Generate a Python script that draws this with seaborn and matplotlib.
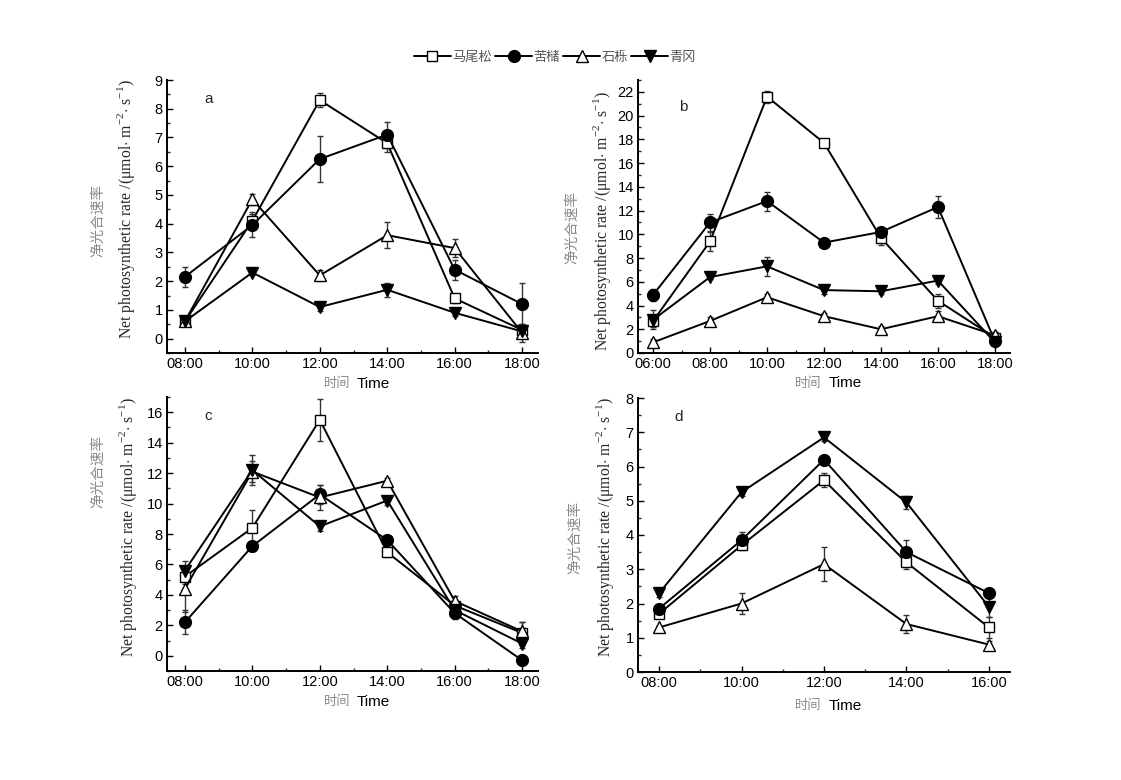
import numpy as np
import pandas as pd
import matplotlib
matplotlib.use("Agg")
import matplotlib.pyplot as plt
from matplotlib.lines import Line2D
from matplotlib.ticker import FixedLocator, MultipleLocator
import seaborn as sns

# ---------------- data ----------------
species = ["马尾松", "苦槠", "石栎", "青冈"]

hours_a = [8, 10, 12, 14, 16, 18]
a_mws = [0.6, 4.1, 8.3, 6.8, 1.4, 0.3]
a_kz = [2.15, 3.95, 6.25, 7.1, 2.4, 1.2]
a_sl = [0.6, 4.85, 2.2, 3.6, 3.15, 0.2]
a_qg = [0.6, 2.3, 1.1, 1.7, 0.9, 0.25]
a_mws_e = [0.1, 0.3, 0.25, 0.3, 0.15, 0.2]
a_kz_e = [0.35, 0.4, 0.8, 0.45, 0.35, 0.75]
a_sl_e = [0.1, 0.2, 0.2, 0.45, 0.3, 0.3]
a_qg_e = [0.1, 0.1, 0.15, 0.25, 0.1, 0.1]

hours_b = [6, 8, 10, 12, 14, 16, 18]
b_mws = [2.7, 9.4, 21.6, 17.7, 9.7, 4.4, 1.3]
b_kz = [4.9, 11.0, 12.8, 9.3, 10.2, 12.3, 1.0]
b_sl = [0.9, 2.7, 4.7, 3.1, 2.0, 3.1, 1.5]
b_qg = [2.8, 6.4, 7.3, 5.3, 5.2, 6.1, 0.9]
b_mws_e = [0.5, 0.8, 0.5, 0.2, 0.6, 0.6, 0.5]
b_kz_e = [0.5, 0.7, 0.8, 0.2, 0.3, 0.9, 0.3]
b_sl_e = [0.3, 0.3, 0.3, 0.3, 0.3, 0.4, 0.3]
b_qg_e = [0.8, 0.2, 0.8, 0.3, 0.2, 0.3, 0.3]

hours_c = [8, 10, 12, 14, 16, 18]
c_mws = [5.2, 8.4, 15.5, 6.8, 3.3, 1.5]
c_kz = [2.2, 7.2, 10.6, 7.6, 2.8, -0.3]
c_sl = [4.4, 12.1, 10.4, 11.5, 3.6, 1.6]
c_qg = [5.6, 12.2, 8.5, 10.2, 3.0, 0.8]
c_mws_e = [0.5, 1.2, 1.4, 0.3, 0.3, 0.7]
c_kz_e = [0.8, 0.3, 0.6, 0.3, 0.4, 0.3]
c_sl_e = [1.5, 0.7, 0.8, 0.2, 0.3, 0.6]
c_qg_e = [0.6, 1.0, 0.3, 0.3, 0.3, 0.3]

hours_d = [8, 10, 12, 14, 16]
d_mws = [1.7, 3.7, 5.6, 3.2, 1.3]
d_kz = [1.85, 3.85, 6.2, 3.5, 2.3]
d_sl = [1.3, 2.0, 3.15, 1.4, 0.8]
d_qg = [2.3, 5.25, 6.85, 4.95, 1.9]
d_mws_e = [0.1, 0.15, 0.2, 0.2, 0.3]
d_kz_e = [0.1, 0.25, 0.1, 0.35, 0.1]
d_sl_e = [0.05, 0.3, 0.5, 0.25, 0.1]
d_qg_e = [0.1, 0.1, 0.1, 0.2, 0.3]

tick_labels_a = ["08:00", "10:00", "12:00", "14:00", "16:00", "18:00"]
tick_labels_b = ["06:00", "08:00", "10:00", "12:00", "14:00", "16:00", "18:00"]
tick_labels_d = ["08:00", "10:00", "12:00", "14:00", "16:00"]

panel_letters = ["a", "b", "c", "d"]

# ---------------- style ----------------
sns.set_theme(style="ticks")
plt.rcParams["font.family"] = ["Liberation Sans", "Noto Sans CJK SC", "DejaVu Sans"]
plt.rcParams["mathtext.fontset"] = "custom"
plt.rcParams["mathtext.rm"] = "Liberation Serif"

markers = {"马尾松": "s", "苦槠": "o", "石栎": "^", "青冈": "v"}
faces = {"马尾松": "white", "苦槠": "black", "石栎": "white", "青冈": "black"}
msizes = {"马尾松": 7.5, "苦槠": 8.5, "石栎": 9, "青冈": 9}

fig = plt.figure(figsize=(11.21, 7.80), dpi=100)
W, H = 1121, 780


def frac_box(l, r, t, b):
    return [l / W, 1 - b / H, (r - l) / W, (b - t) / H]


boxes = [
    frac_box(167, 538, 80, 353),
    frac_box(638, 1010, 80, 353),
    frac_box(167, 538, 397, 671),
    frac_box(638, 1010, 398, 672),
]

panels = [
    (hours_a, [a_mws, a_kz, a_sl, a_qg], [a_mws_e, a_kz_e, a_sl_e, a_qg_e], tick_labels_a,
     (7.47, 18.47), (-0.5, 9.0), 1, 0.5, (0.10, 0.93)),
    (hours_b, [b_mws, b_kz, b_sl, b_qg], [b_mws_e, b_kz_e, b_sl_e, b_qg_e], tick_labels_b,
     (5.47, 18.53), (0, 23.0), 2, 1, (0.11, 0.90)),
    (hours_c, [c_mws, c_kz, c_sl, c_qg], [c_mws_e, c_kz_e, c_sl_e, c_qg_e], tick_labels_a,
     (7.47, 18.47), (-1.0, 17.0), 2, 1, (0.10, 0.93)),
    (hours_d, [d_mws, d_kz, d_sl, d_qg], [d_mws_e, d_kz_e, d_sl_e, d_qg_e], tick_labels_d,
     (7.49, 16.51), (0, 8.0), 1, 0.5, (0.097, 0.93)),
]

# label positions in pixel coords
ylab_en = [(126, 209), (602, 221), (128, 527), (605, 527)]
ylab_cn = [(98, 220), (572, 227), (98, 471), (575, 537)]
xlab_y = [384, 383, 702, 706]

for i, (hrs, vals, errs, tlabels, xl, yl, ymaj, ymin, letpos) in enumerate(panels):
    ax = fig.add_axes(boxes[i])
    for sp, v, e in zip(species, vals, errs):
        ax.errorbar(hrs, v, yerr=e, fmt="none", ecolor="#333333", elinewidth=1.0,
                    capsize=2.5, capthick=1.0, zorder=2)
        df = pd.DataFrame({"hour": hrs, "value": v})
        sns.lineplot(data=df, x="hour", y="value", ax=ax, color="black",
                     marker=markers[sp], markersize=msizes[sp],
                     markerfacecolor=faces[sp], markeredgecolor="black",
                     markeredgewidth=1.0, linewidth=1.4, zorder=3)
    ax.set_xlim(*xl)
    ax.set_ylim(*yl)
    ax.xaxis.set_major_locator(FixedLocator(hrs))
    ax.set_xticklabels(tlabels)
    ax.xaxis.set_minor_locator(FixedLocator([h + 1 for h in hrs[:-1]]))
    ax.yaxis.set_major_locator(MultipleLocator(ymaj))
    ax.yaxis.set_minor_locator(MultipleLocator(ymin))
    ax.tick_params(which="major", direction="in", length=4, width=1.0, labelsize=10.5,
                   colors="black", pad=3)
    ax.tick_params(which="minor", direction="in", length=2.5, width=1.0)
    for s in ["top", "right"]:
        ax.spines[s].set_visible(False)
    for s in ["left", "bottom"]:
        ax.spines[s].set_linewidth(1.4)
        ax.spines[s].set_color("black")
    ax.set_facecolor("none")
    ax.set_xlabel("")
    ax.set_ylabel("")
    ax.text(letpos[0], letpos[1], panel_letters[i], transform=ax.transAxes,
            fontsize=11, ha="left", va="center")
    # axis titles
    fig.text(ylab_en[i][0] / W, 1 - ylab_en[i][1] / H,
             r"Net photosynthetic rate /($\mathrm{\mu mol}$$\cdot$ m$^{-2}$$\cdot$ s$^{-1}$)",
             rotation=90, ha="center", va="center", fontsize=11.3,
             family=["Liberation Serif", "DejaVu Serif"])
    fig.text(ylab_cn[i][0] / W, 1 - ylab_cn[i][1] / H, "净光合速率", rotation=90,
             ha="center", va="center", fontsize=10.5, color="#8a8a8a",
             family=["Noto Sans CJK SC", "DejaVu Sans"])
    cx = boxes[i][0] + boxes[i][2] / 2
    fig.text(cx - 0.002, 1 - xlab_y[i] / H, "时间", ha="right", va="center",
             fontsize=9.5, color="#8a8a8a", family=["Noto Sans CJK SC", "DejaVu Sans"])
    fig.text(cx + 0.004, 1 - xlab_y[i] / H, "Time", ha="left", va="center",
             fontsize=11, color="black", family=["Liberation Sans", "DejaVu Sans"])

handles = [Line2D([], [], color="black", linewidth=1.4, marker=markers[sp],
                  markersize=msizes[sp], markerfacecolor=faces[sp],
                  markeredgecolor="black") for sp in species]
leg = fig.legend(handles, species, loc="center", bbox_to_anchor=(555 / W, 1 - 57 / H),
                 ncol=4, frameon=False, handlelength=2.8, handletextpad=0.1,
                 columnspacing=0.25,
                 prop={"family": ["Noto Sans CJK SC", "DejaVu Sans"], "size": 9.5})
for t in leg.get_texts():
    t.set_color("#555555")

fig.savefig("out.png", dpi=100, facecolor="white")
